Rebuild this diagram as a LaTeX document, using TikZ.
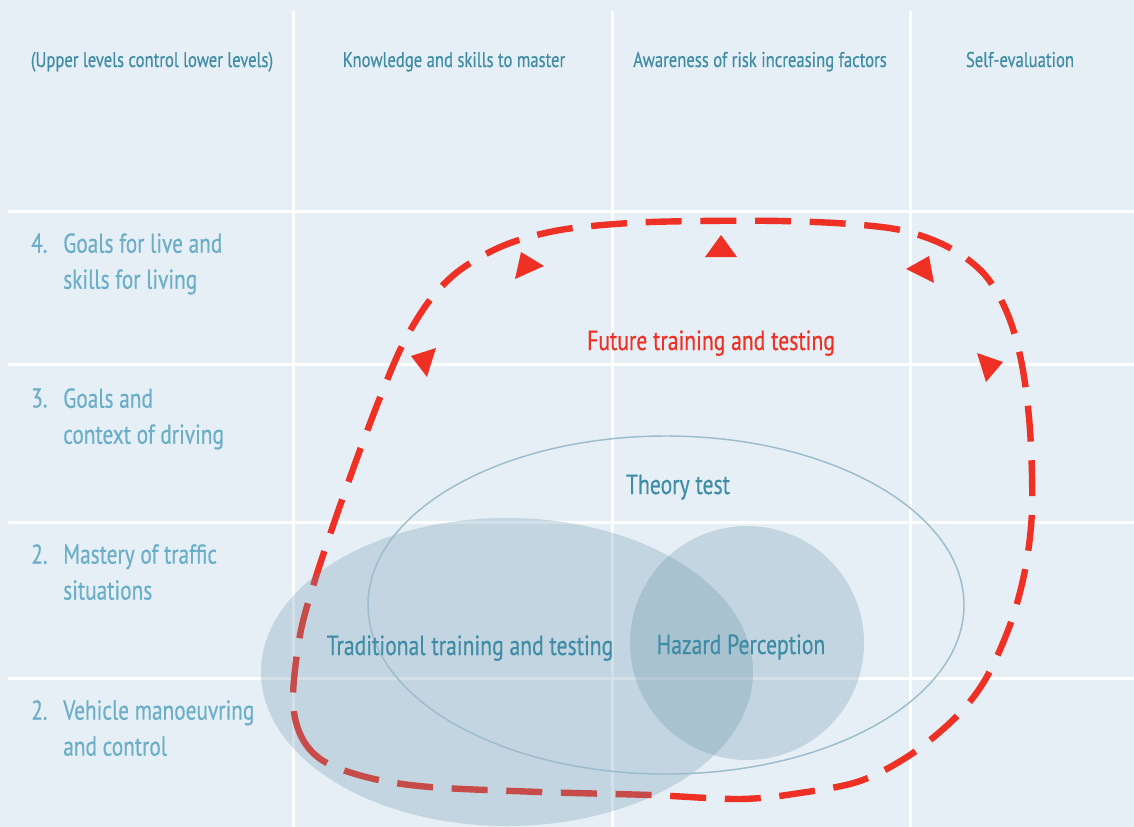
\documentclass[tikz,border=0pt]{standalone}
\usepackage{fontspec}
\setmainfont[FakeStretch=0.78,FakeBold=0.4]{PT Sans}
\usetikzlibrary{positioning}

\definecolor{bgblue}{HTML}{E6EFF5}
\definecolor{darkteal}{HTML}{3F8CA6}
\definecolor{lightteal}{HTML}{6AAEC8}
\definecolor{loopred}{HTML}{EE3124}
\definecolor{blobblue}{HTML}{6592AA}
\definecolor{rimblue}{HTML}{9DBCCD}

\begin{document}
\begin{tikzpicture}[x=0.75pt,y=-0.75pt,
        rule/.style={white,line width=2.25pt},
        colhead/.style={font=\fontsize{16}{19}\selectfont,text=darkteal,anchor=base,inner sep=0pt},
        rowlab/.style={font=\fontsize{20.5}{27}\selectfont,text=lightteal,align=left,anchor=north west,inner sep=0pt},
        inlab/.style={font=\fontsize{20.8}{25}\selectfont,text=darkteal,anchor=base,inner sep=0pt},
        redloop/.style={loopred,line width=4.8pt,dash pattern=on 27pt off 14pt},
        blob/.style={fill=blobblue,fill opacity=0.28},
        tip/.style={fill=loopred}]
        \useasboundingbox (0,0) rectangle (1134,827);
        \fill[bgblue] (0,0) rectangle (1134,827);

        % table rules
        \foreach \x in {293,612,910}
            \draw[rule] (\x,11) -- (\x,827);
        \foreach \y in {212,364,522,678}
            \draw[rule] (8,\y) -- (1134,\y);

        % future loop
        \draw[redloop] plot[smooth cycle,tension=0.55] coordinates {
            (293,700) (302,738) (325,762) (370,778) (430,787) (540,792)
            (650,795) (740,799) (800,793) (860,781) (910,755) (955,718)
            (985,680) (1010,625) (1025,570) (1032,510) (1030,430) (1022,365)
            (1008,315) (985,275) (950,248) (905,231) (850,224) (780,221)
            (700,221) (630,223) (560,230) (505,245) (460,270) (430,300)
            (405,340) (385,385) (360,450) (335,520) (315,580) (300,635)};
        \fill[tip] (705,257) -- (721,235) -- (737,257) -- cycle;
        \fill[tip] (521,252) -- (544,266) -- (515,279) -- cycle;
        \fill[tip] (929,256) -- (906,269) -- (934,283) -- cycle;
        \fill[tip] (436,348) -- (411,356) -- (427,377) -- cycle;
        \fill[tip] (977,353) -- (1003,362) -- (986,382) -- cycle;

        % tests
        \fill[blob] (507,672) ellipse [x radius=246,y radius=154];
        \fill[blob] (747,643) ellipse [x radius=117,y radius=117];
        \draw[rimblue,line width=1.1pt] (666,605) ellipse [x radius=298,y radius=169];

        % column heads
        \node[colhead] (h0) at (152,67) {(Upper levels control lower levels)};
        \node[colhead] (h1) at (454,67) {Knowledge and skills to master};
        \node[colhead] (h2) at (760,67) {Awareness of risk increasing factors};
        \node[colhead] (h3) at (1020,67) {Self-evaluation};

        % levels
        \node[rowlab] (n4) at (31,233) {4.};
        \node[rowlab] (l4) at (63,233) {Goals for live and\\skills for living};
        \node[rowlab] (n3) at (31,388) {3.};
        \node[rowlab] (l3) at (63,388) {Goals and\\context of driving};
        \node[rowlab] (n2) at (31,544) {2.};
        \node[rowlab] (l2) at (63,544) {Mastery of traffic\\situations};
        \node[rowlab] (n1) at (31,700) {2.};
        \node[rowlab] (l1) at (63,700) {Vehicle manoeuvring\\and control};

        % labels
        \node[inlab,text=loopred] (future) at (711,350) {Future training and testing};
        \node[inlab] (theory) at (678,494) {Theory test};
        \node[inlab] (trad) at (470,655) {Traditional training and testing};
        \node[inlab] (hazard) at (741,654) {Hazard Perception};
\end{tikzpicture}
\end{document}
